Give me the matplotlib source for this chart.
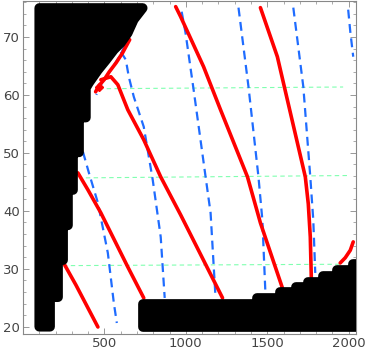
import matplotlib
matplotlib.use("Agg")
import matplotlib.pyplot as plt
from matplotlib.ticker import MultipleLocator

# black regions (centres of the big point markers, outlined by their radius)
left_x = [100, 100, 735, 680, 643, 601, 558, 509, 460, 405, 386, 386, 344, 344, 307, 307,
          276, 276, 246, 246, 215, 215, 166, 166]
left_y = [20, 75, 75, 73.0, 70.7, 69.0, 67.8, 66.0, 64.3, 62.1, 61.2, 56.1, 56.1, 50.1, 50.1, 43.6,
          43.6, 37.5, 37.5, 31.5, 31.5, 25.1, 25.1, 20]
bot_x = [734, 734, 1440, 1440, 1581, 1581, 1679, 1679, 1752, 1752, 1844, 1844, 1930, 1930,
         2028, 2028, 2120, 2120]
bot_y = [20, 23.9, 23.9, 25.0, 25.0, 26.0, 26.0, 26.9, 26.9, 27.7, 27.7, 28.8, 28.8, 29.8,
         29.8, 30.8, 30.8, 20]

# red solid curves
red = {
    "r1": ([245.6, 325, 460], [31.18, 27.2, 19.95]),
    "rmid": ([337, 398.7, 478.3, 643.6, 741.6], [46.55, 43.62, 39.64, 30.31, 24.96]),
    "r0": ([655, 612, 572, 530, 498, 466, 446],
           [69.53, 67.29, 65.56, 64.0, 62.62, 61.59, 60.55]),
    "r2": ([478.3, 539.5, 582.4, 619, 643.6, 741.6, 845.7, 968.2, 1225.4],
           [62.62, 63.14, 61.76, 59.17, 57.44, 52.26, 45.86, 39.3, 24.96]),
    "r3": ([937.6, 968.2, 1109, 1213, 1378.6, 1458, 1593],
           [75.24, 73.5, 64.87, 57.44, 45.86, 37.92, 26.69]),
    "r4": ([1458, 1562, 1623.4, 1733.7, 1752, 1764.3, 1770.4],
           [75.07, 66.6, 59.17, 45.86, 41.2, 35.5, 28.59]),
    "r5": ([2028, 2010, 1979, 1948], [34.64, 33.2, 31.9, 31.0]),
}
red_dot = (466, 61.42)

# blue dashed curves
blue = {
    "b1": ([368, 404.8, 460, 521, 557.8, 576.2], [50.19, 46.55, 41.37, 32.73, 24.1, 20.64]),
    "be": ([706, 665, 622, 592, 532, 488, 450], [73.3, 70.74, 68.3, 66.6, 64.0, 62.28, 60.03]),
    "b2": ([600.7, 631.3, 649.7, 680.3, 741.6, 796.7, 845.7, 870.2],
           [67.45, 66.08, 63.14, 59.69, 54.5, 45.34, 35.5, 24.96]),
    "ba": ([974.3, 998, 1047.8, 1121.3, 1152, 1182.5], [74.37, 70.74, 60.9, 45.86, 39.64, 24.96]),
    "b3": ([1323.4, 1384.7, 1446, 1470, 1488.7], [75.07, 61.42, 45.86, 38.43, 25.82]),
    "b4": ([1660, 1721.4, 1764.3, 1782.6, 1794.8], [75.07, 61.42, 45.86, 38.43, 29.28]),
    "b5": ([1997, 2010, 2028], [74.72, 70.9, 66.6]),
}

# light green dashed guides
green = {
    "g1": ([466, 1966], [61.07, 61.37]),
    "g2": ([386, 1991], [45.69, 46.09]),
    "g3": ([245.6, 1960], [30.54, 30.78]),
}

fig = plt.figure(figsize=(3.67, 3.54), dpi=100)
ax = fig.add_axes([23 / 367, 20 / 354, 333 / 367, 333.5 / 354])

for xs, ys in green.values():
    ax.plot(xs, ys, color="#80ffb0", lw=0.8, dashes=(4, 3), zorder=1)
for xs, ys in blue.values():
    ax.plot(xs, ys, color="#1f6cff", lw=1.6, dashes=(4, 2.5), zorder=2)
for xs, ys in red.values():
    ax.plot(xs, ys, color="#ff0000", lw=2.6, solid_capstyle="round", zorder=2)
ax.plot(*red_dot, marker="D", ms=4, color="#ff0000", zorder=2)

for xs, ys in [(left_x, left_y), (bot_x, bot_y)]:
    ax.fill(xs, ys, facecolor="black", edgecolor="black", lw=7.0, joinstyle="round", zorder=3)

ax.set_xlim(0, 2045)
ax.set_ylim(18.74, 76.3)
ax.xaxis.set_major_locator(MultipleLocator(500))
ax.xaxis.set_minor_locator(MultipleLocator(100))
ax.yaxis.set_major_locator(MultipleLocator(10))
ax.yaxis.set_minor_locator(MultipleLocator(2))
ax.tick_params(which="both", direction="in", top=True, right=True, color="#888888",
               labelsize=9.5, labelcolor="#444444", pad=2)
ax.tick_params(which="major", length=4, width=0.6)
ax.tick_params(which="minor", length=2, width=0.5)
ax.set_yticks([20, 30, 40, 50, 60, 70])
ax.set_xticks([500, 1000, 1500, 2000])
for s in ax.spines.values():
    s.set_color("#888888")
    s.set_linewidth(0.8)

fig.savefig("out.png", dpi=100)
